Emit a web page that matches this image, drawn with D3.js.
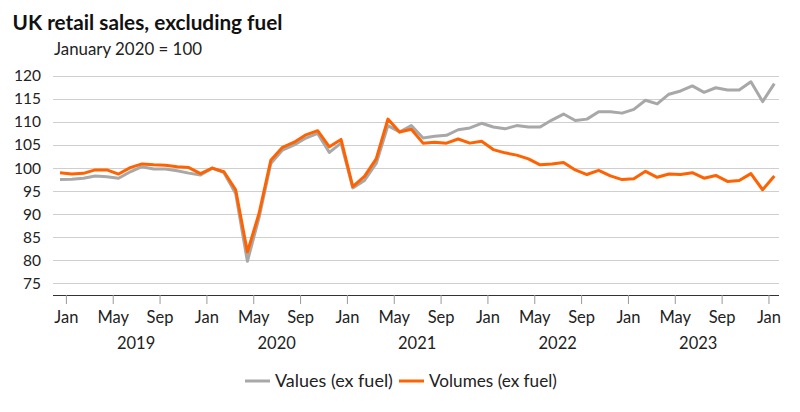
<!DOCTYPE html>
<html>
<head>
<meta charset="utf-8">
<script src="https://cdn.jsdelivr.net/npm/d3@7"></script>
<style>
  html, body { margin: 0; padding: 0; background: #fff; }
  svg text { font-family: Lato, "Open Sans", sans-serif; }
</style>
</head>
<body>
<svg id="chart" width="800" height="412"></svg>
<script>
// Categories: monthly, Dec 2018 .. Jan 2024
const months = d3.timeMonths(new Date(2018, 11, 1), new Date(2024, 1, 1));

// Values (ex fuel), January 2020 = 100
const valuesExFuel = [
  97.5, 97.6, 97.8, 98.3, 98.1, 97.8, 99.2, 100.3, 99.8, 99.8, 99.4, 98.9,
  98.5, 100.0, 99.0, 94.5, 79.8, 89.3, 101.0, 103.9, 105.0, 106.5, 107.5, 103.4,
  105.4, 95.7, 97.3, 101.0, 109.2, 107.8, 109.2, 106.5, 106.9, 107.1, 108.3, 108.7,
  109.7, 108.9, 108.5, 109.2, 108.9, 108.9, 110.4, 111.7, 110.3, 110.6, 112.2, 112.2,
  111.9, 112.7, 114.7, 113.9, 116.0, 116.7, 117.8, 116.4, 117.4, 116.9, 116.9, 118.7,
  114.4, 118.3
];

// Volumes (ex fuel), January 2020 = 100
const volumesExFuel = [
  99.0, 98.7, 98.85, 99.6, 99.6, 98.7, 100.1, 100.9, 100.7, 100.6, 100.3, 100.1,
  98.8, 100.0, 99.2, 95.3, 81.8, 90.2, 101.7, 104.5, 105.6, 107.2, 108.1, 104.6,
  106.2, 96.0, 98.2, 102.0, 110.6, 107.8, 108.4, 105.4, 105.6, 105.4, 106.3, 105.4,
  105.8, 104.0, 103.3, 102.8, 102.0, 100.7, 100.9, 101.2, 99.6, 98.6, 99.5, 98.3,
  97.5, 97.7, 99.3, 98.0, 98.7, 98.6, 99.0, 97.8, 98.4, 97.1, 97.3, 98.8,
  95.3, 98.3
];

const yTicks = [75, 80, 85, 90, 95, 100, 105, 110, 115, 120];
const monthTickLabels = ["Jan", "May", "Sep"];
const yearLabels = ["2019", "2020", "2021", "2022", "2023"];
const seriesNames = ["Values (ex fuel)", "Volumes (ex fuel)"];
const seriesColors = ["#a8a8a8", "#ff6200"];

const svg = d3.select("#chart");

const x = d3.scaleLinear().domain([-0.6, months.length - 0.6]).range([53, 779]);
const y = d3.scaleLinear().domain([72.5, 122.5]).range([295, 64.2]);

function fitText(sel, targetW) {
  const n = sel.node();
  const fs = parseFloat(sel.attr("font-size"));
  const w = n.getComputedTextLength();
  sel.attr("font-size", (fs * targetW / w).toFixed(2));
}
const title = svg.append("text").attr("x", 12.5).attr("y", 30)
  .attr("font-size", 20).attr("font-weight", 700).attr("fill", "#111")
  .text("UK retail sales, excluding fuel");
fitText(title, 270);
const sub = svg.append("text").attr("x", 54).attr("y", 55)
  .attr("font-size", 15).attr("fill", "#222")
  .text("January 2020 = 100");
fitText(sub, 148);

// Gridlines
svg.append("g").selectAll("line").data(yTicks).join("line")
  .attr("x1", 53).attr("x2", 779)
  .attr("y1", d => Math.round(y(d)) + 0.5).attr("y2", d => Math.round(y(d)) + 0.5)
  .attr("stroke", "#cfcfcf").attr("stroke-width", 1);

// Y axis labels
const yAxis = d3.axisLeft(y).tickValues(yTicks).tickSize(0).tickPadding(0);
const gy = svg.append("g").attr("transform", "translate(41,0)").call(yAxis);
gy.select(".domain").remove();
gy.selectAll("text").attr("font-size", 15.5).attr("fill", "#222")
  .style("font-family", "Lato, 'Open Sans', sans-serif");

// X axis
const tickIdx = [];
months.forEach((m, i) => { if (m.getMonth() % 4 === 0) tickIdx.push(i - 0.5); });
const xAxis = d3.axisBottom(x).tickValues(tickIdx)
  .tickFormat((d, i) => monthTickLabels[i % 3])
  .tickSize(9).tickPadding(7).tickSizeOuter(0);
const gx = svg.append("g").attr("transform", "translate(0,295)").call(xAxis);
gx.select(".domain").attr("stroke", "#333").attr("stroke-width", 1.2)
  .attr("d", `M${x.range()[0]},0.5H${x.range()[1]}`);
gx.selectAll(".tick line").attr("stroke", "#999");
gx.selectAll("text").attr("font-size", 16.5).attr("fill", "#222")
  .style("font-family", "Lato, 'Open Sans', sans-serif");

// Year labels
const janIdx = tickIdx.filter((d, i) => i % 3 === 0);
svg.append("g").selectAll("text").data(yearLabels).join("text")
  .attr("x", (d, i) => (x(janIdx[i]) + x(janIdx[i + 1])) / 2)
  .attr("y", 349).attr("text-anchor", "middle")
  .attr("font-size", 16.5).attr("fill", "#222")
  .text(d => d);

// Lines
const line = d3.line().x((d, i) => x(i)).y(d => y(d)).curve(d3.curveLinear);
[valuesExFuel, volumesExFuel].forEach((s, j) => {
  svg.append("path").datum(s)
    .attr("d", line).attr("fill", "none")
    .attr("stroke", seriesColors[j]).attr("stroke-width", 3)
    .attr("stroke-linejoin", "round").attr("stroke-linecap", "butt");
});

// Legend
const legendW = [118, 128];
const lg = svg.append("g").attr("transform", "translate(0,381)");
let lx = 245;
seriesNames.forEach((name, j) => {
  lg.append("line").attr("x1", lx).attr("x2", lx + 25).attr("y1", 0).attr("y2", 0)
    .attr("stroke", seriesColors[j]).attr("stroke-width", 3);
  const t = lg.append("text").attr("x", lx + 30).attr("y", 5.5)
    .attr("font-size", 16).attr("fill", "#222").text(name);
  fitText(t, legendW[j]);
  lx = lx + 30 + legendW[j] + 6;
});
</script>
</body>
</html>
